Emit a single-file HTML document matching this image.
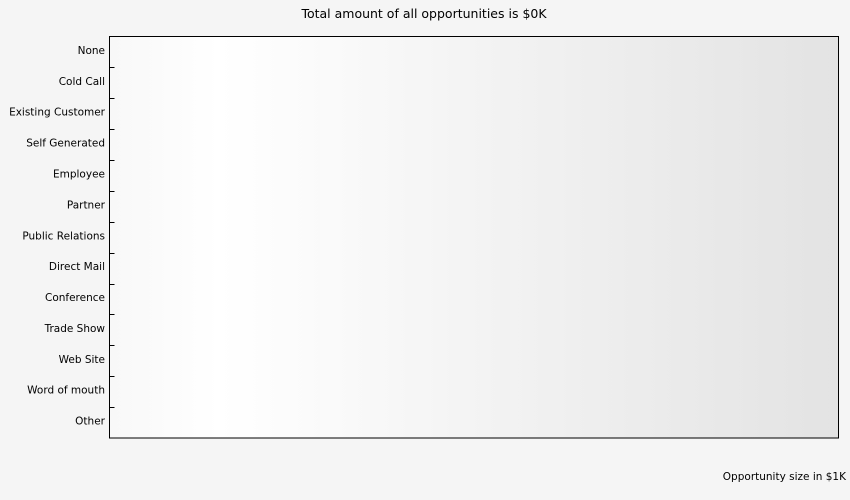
<!DOCTYPE html>
<html><head><meta charset="utf-8"><style>
html,body{margin:0;padding:0;background:#f5f5f5;}
svg{display:block;font-family:"DejaVu Sans","Liberation Sans",sans-serif;}
</style></head><body>
<svg id="chart" width="850" height="500">
<defs><linearGradient id="bg" x1="0" x2="1" y1="0" y2="0">
<stop offset="0" stop-color="#f8f8f8"/><stop offset="0.15" stop-color="#ffffff"/><stop offset="1" stop-color="#e3e3e3"/></linearGradient></defs>
<text x="424" y="18" text-anchor="middle" font-size="12.5" fill="#000">Total amount of all opportunities is $0K</text>
<rect x="109.5" y="36.5" width="729" height="401.5" fill="url(#bg)" stroke="#000" stroke-width="1"/>
<g id="yaxis"></g>
<text x="846" y="480" text-anchor="end" font-size="10.5" fill="#000">Opportunity size in $1K</text>
</svg>
<script>
const categories=["None","Cold Call","Existing Customer","Self Generated","Employee","Partner","Public Relations","Direct Mail","Conference","Trade Show","Web Site","Word of mouth","Other"];
const values=[0,0,0,0,0,0,0,0,0,0,0,0,0];
const ns="http://www.w3.org/2000/svg";
const top0=36.5,bot=438,left=109.5,right=838.5;
const band=(bot-top0)/categories.length;
const g=document.getElementById('yaxis');
const maxV=Math.max(1,...values);
const x=v=>left+(right-left)*v/maxV;
categories.forEach((c,i)=>{
  const y=top0+band*(i+0.5);
  const t=document.createElementNS(ns,'text');
  t.setAttribute('x',105);t.setAttribute('y',y+2);t.setAttribute('text-anchor','end');t.setAttribute('font-size','10.5');
  t.textContent=c;
  
  
  g.appendChild(t);
  if(values[i]>0){
    const r=document.createElementNS(ns,'rect');
    r.setAttribute('x',left);r.setAttribute('y',y-band*0.35);r.setAttribute('width',x(values[i])-left);r.setAttribute('height',band*0.7);r.setAttribute('fill','#4a7ebb');
    
    
    g.appendChild(r);
  }
  if(i>0){
    const ty=Math.round(top0+band*i)+0.5;
    const l=document.createElementNS(ns,'line');
    l.setAttribute('x1',left);l.setAttribute('x2',left+5);l.setAttribute('y1',ty);l.setAttribute('y2',ty);l.setAttribute('stroke','#000');
    
    
    g.appendChild(l);
  }
});
</script>
</body></html>
